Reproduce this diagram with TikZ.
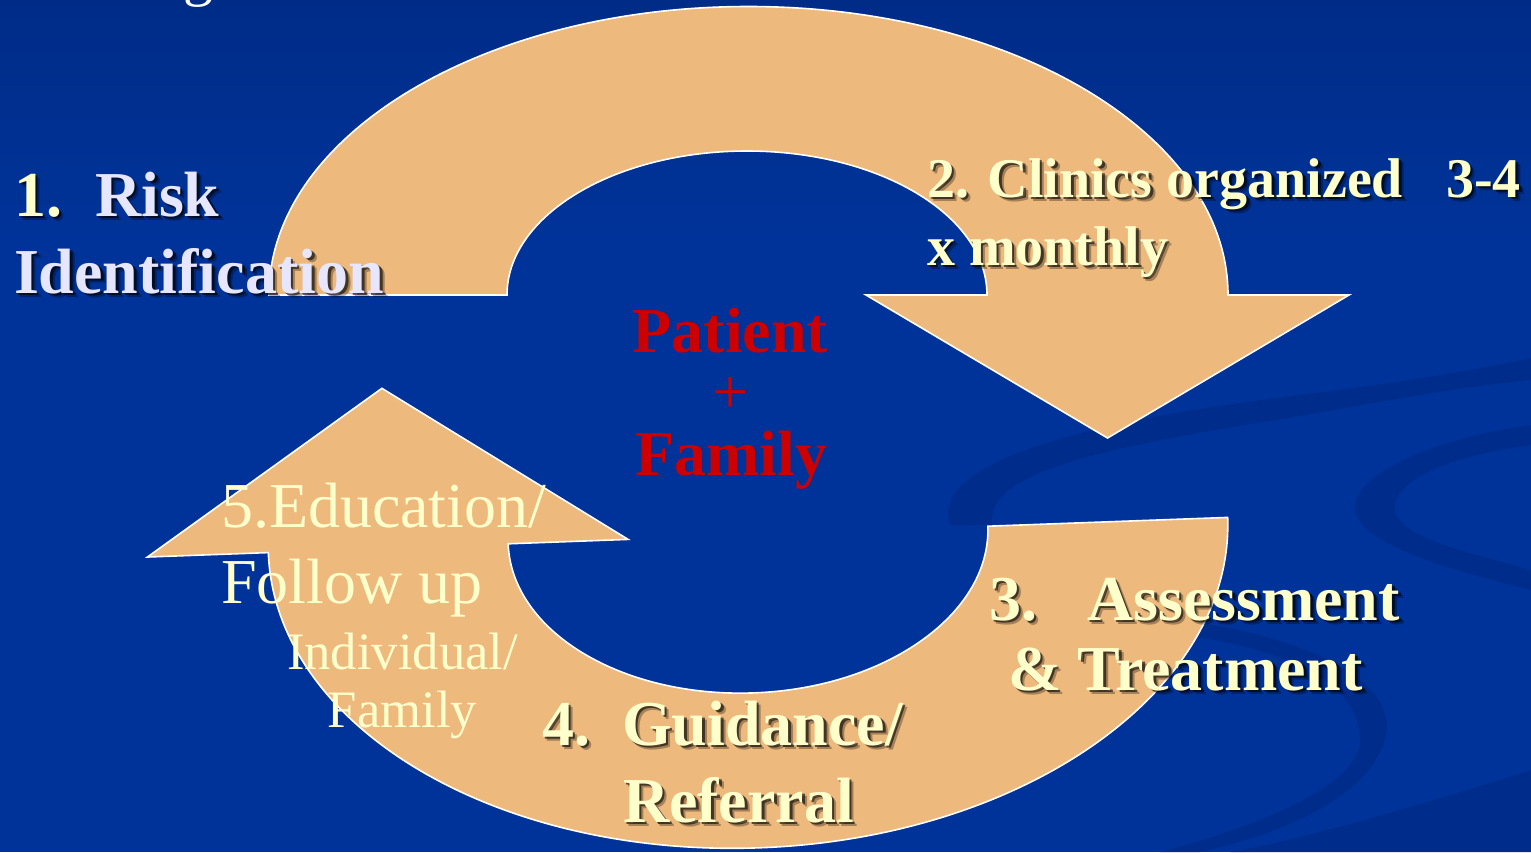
\documentclass[tikz,border=0pt]{standalone}
\usepackage{fontspec}
\setmainfont{Liberation Serif}
\definecolor{bgblue}{RGB}{0,51,153}
\definecolor{bgtop}{RGB}{0,44,136}
\definecolor{swirl}{RGB}{0,45,140}
\definecolor{arrowtan}{RGB}{237,185,125}
\definecolor{cream}{RGB}{255,255,204}
\definecolor{lavender}{RGB}{230,230,255}
\definecolor{patred}{RGB}{204,0,0}

\newcommand\lblfont{\fontsize{32}{38}\selectfont\bfseries}
\newcommand\clinicfont{\fontsize{28}{34}\selectfont\bfseries}
\newcommand\centrefont{\fontsize{32}{38}\selectfont\bfseries}
\newcommand\plusfont{\fontsize{32}{38}\selectfont}
\newcommand\edufont{\fontsize{32}{38}\selectfont}
\newcommand\smallfont{\fontsize{26.3}{32}\selectfont}

% text with a soft drop shadow: name, position, colour, font, text
\newcommand\shtext[5]{%
  \node[txt, text=black, text opacity=0.3, xshift=2.4pt, yshift=-2.4pt] at (#2) {#4#5};
  \node[txt, text=black, text opacity=0.6, xshift=1.4pt, yshift=-1.4pt] at (#2) {#4#5};
  \node[txt, text=#3] (#1) at (#2) {#4#5};%
}

\tikzset{
  arrowbody/.style={fill=arrowtan, draw=white, line width=0.8pt, line join=miter},
  txt/.style={anchor=base west, inner sep=0pt, outer sep=0pt},
  ctxt/.style={anchor=base, inner sep=0pt, outer sep=0pt},
}

\begin{document}
\begin{tikzpicture}[x=0.5pt,y=0.5pt]
\useasboundingbox (0,0) rectangle (1531,-852);
\clip (0,0) rectangle (1531,-852);

% background
\fill[bgblue] (0,0) rectangle (1531,-852);
\shade[top color=bgtop, bottom color=bgblue] (0,0) rectangle (1531,-240);

% darker swirls in the lower right
\fill[swirl] (950,-525) .. controls (930,-470) and (1050,-425) .. (1300,-395)
  .. controls (1420,-380) and (1500,-365) .. (1531,-358) -- (1531,-380)
  .. controls (1450,-388) and (1380,-402) .. (1300,-416)
  .. controls (1100,-448) and (985,-472) .. (992,-525) -- cycle;
\fill[swirl] (1531,-425) .. controls (1420,-440) and (1350,-480) .. (1355,-510)
  .. controls (1360,-545) and (1450,-570) .. (1531,-590) -- (1531,-570)
  .. controls (1460,-550) and (1390,-535) .. (1395,-505)
  .. controls (1400,-475) and (1460,-455) .. (1531,-445) -- cycle;
\fill[swirl] (1180,-620) .. controls (1330,-640) and (1400,-690) .. (1385,-740)
  .. controls (1370,-790) and (1300,-830) .. (1200,-852) -- (1160,-852)
  .. controls (1280,-820) and (1360,-780) .. (1360,-740)
  .. controls (1360,-690) and (1300,-650) .. (1180,-635) -- cycle;
\fill[swirl] (1531,-770) .. controls (1420,-805) and (1300,-840) .. (1230,-852)
  -- (1531,-852) -- cycle;

% fragment of the heading above
\node[txt, text=white] (headg) at (183,6) {\fontsize{30}{36}\selectfont g};

% upper curved arrow, pointing down on the right
\path[arrowbody] (269,-295)
  arc[start angle=180, end angle=0, x radius=479.5, y radius=288.5]
  -- (1349,-295) -- (1107.5,-438) -- (866,-295) -- (987,-295)
  arc[start angle=0, end angle=180, x radius=240, y radius=144] -- cycle;

% lower curved arrow, pointing up on the left
\begin{scope}[shift={(748,-535)}, rotate=2.1]
\path[arrowbody] (480,0)
  arc[start angle=0, end angle=-180, x radius=480, y radius=313]
  -- (-601,0) -- (-360.5,160) -- (-120,0) -- (-240,0)
  arc[start angle=180, end angle=360, x radius=240, y radius=158] -- cycle;
\end{scope}

% step 1
\shtext{oneno}{14,-216}{cream}{\lblfont}{1.}
\shtext{onea}{95,-216}{lavender}{\lblfont}{Risk}
\shtext{oneb}{14,-293}{lavender}{\lblfont}{Identification}

% step 2
\shtext{twoa}{927,-197}{cream}{\clinicfont}{2. Clinics organized}
\shtext{twob}{1446,-197}{cream}{\clinicfont}{3-4}
\shtext{twoc}{927,-265}{cream}{\clinicfont}{x monthly}

% step 3
\shtext{threeno}{989,-620}{cream}{\lblfont}{3.}
\shtext{threea}{1087,-620}{cream}{\lblfont}{Assessment}
\shtext{threeb}{1008,-690}{cream}{\lblfont}{\& Treatment}

% step 4
\shtext{fourno}{542,-745}{cream}{\lblfont}{4.}
\shtext{foura}{622,-745}{cream}{\lblfont}{Guidance/}
\shtext{fourb}{623,-822}{cream}{\lblfont}{Referral}

% step 5
\node[txt, text=cream] (fivea) at (221,-527) {\edufont 5.Education/};
\node[txt, text=cream] (fiveb) at (221,-603) {\edufont Follow up};
\node[ctxt, text=cream] (fivec) at (402.5,-669) {\smallfont Individual/};
\node[ctxt, text=cream] (fived) at (402.5,-727) {\smallfont Family};

% centre
\node[ctxt, text=patred] (patient) at (730.5,-352) {\centrefont Patient};
\node[ctxt, text=patred] (plus) at (731,-413) {\plusfont +};
\node[ctxt, text=patred] (family) at (731,-475) {\centrefont Family};
\end{tikzpicture}
\end{document}
